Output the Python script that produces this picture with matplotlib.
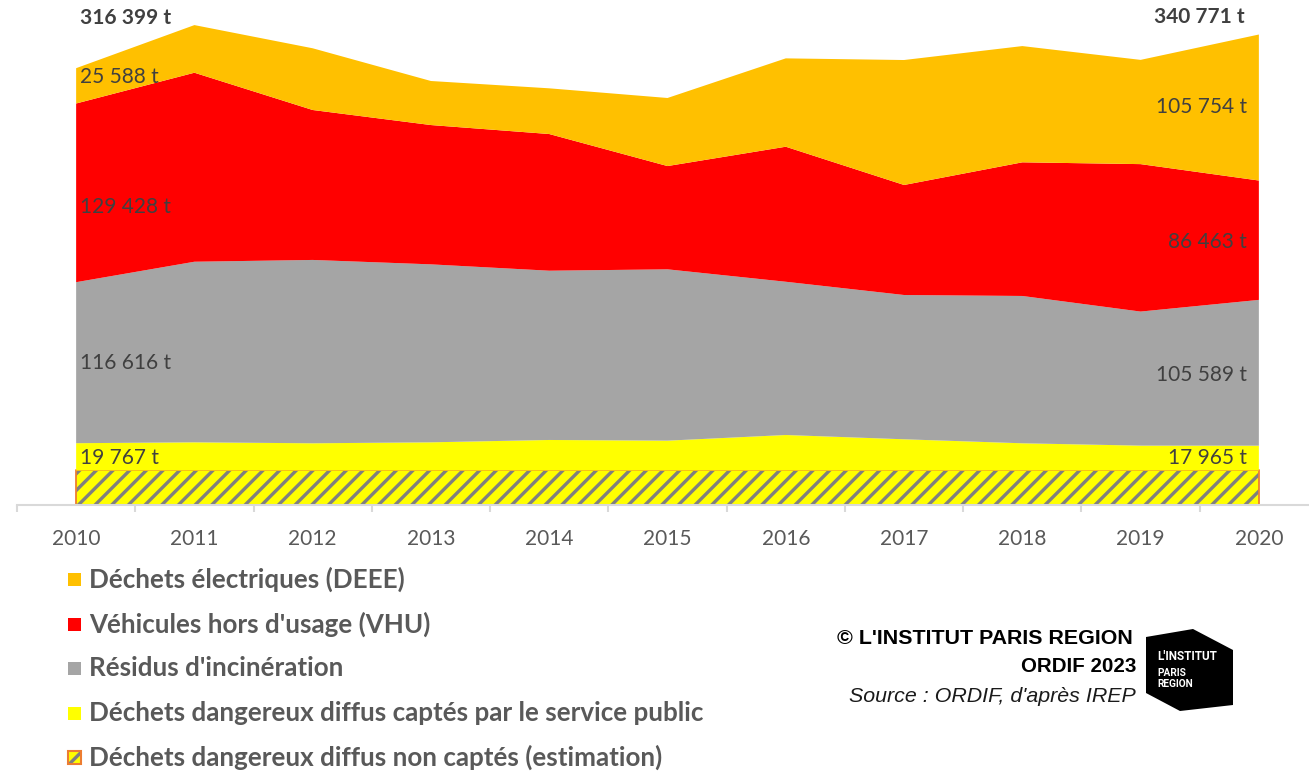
import matplotlib
matplotlib.use("Agg")
import matplotlib.pyplot as plt
import numpy as np
from matplotlib.patches import Rectangle, Polygon

# values in tonnes
years = [2010, 2011, 2012, 2013, 2014, 2015, 2016, 2017, 2018, 2019, 2020]
non_captes = [25000, 25000, 25000, 25000, 25000, 25000, 25000, 25000, 25000, 25000, 25000]
captes = [19767, 20400, 19700, 20400, 22100, 21600, 25700, 22600, 19700, 18000, 17965]
residus = [116616, 130800, 132800, 128900, 122600, 124100, 111000, 104500, 106700, 97100, 105589]
vhu = [129428, 136900, 108600, 100900, 99000, 74800, 97800, 79700, 96800, 106800, 86463]
deee = [25588, 34500, 44700, 31900, 33100, 49300, 64000, 90500, 84200, 75500, 105754]

labels = [
    "Déchets électriques (DEEE)",
    "Véhicules hors d'usage (VHU)",
    "Résidus d'incinération",
    "Déchets dangereux diffus captés par le service public",
    "Déchets dangereux diffus non captés (estimation)",
]
colors = ["#FFC000", "#FF0000", "#A5A5A5", "#FFFF00", "#FFFF00"]
hatch_grey = "#7F7F7F"
border_orange = "#ED7D31"
txt_grey = "#595959"
lbl_grey = "#404040"


def fmt_t(v):
    return f"{v:,}".replace(",", " ") + " t"


plt.rcParams["font.family"] = ["Lato", "DejaVu Sans"]
plt.rcParams["hatch.linewidth"] = 2.4
plt.rcParams["hatch.color"] = hatch_grey

W, H = 1309, 771
fig = plt.figure(figsize=(W / 100, H / 100), dpi=100)
# axis runs a bit past the right edge, as in the source
ax = fig.add_axes([17 / W, (H - 505) / H, 1301 / W, 505 / H])

x = np.array(years)
stack = np.vstack([non_captes, captes, residus, vhu, deee]).astype(float)
cum = np.cumsum(stack, axis=0)
base = np.zeros(len(x))

# bottom hatched layer
ax.fill_between(x, base, cum[0], facecolor=colors[4], edgecolor=hatch_grey, hatch="//", linewidth=0)
ax.fill_between(x, base, cum[0], facecolor="none", edgecolor=border_orange, linewidth=1.3)
ax.fill_between(x, cum[0], cum[1], facecolor=colors[3], linewidth=0)
ax.fill_between(x, cum[1], cum[2], facecolor=colors[2], linewidth=0)
ax.fill_between(x, cum[2], cum[3], facecolor=colors[1], linewidth=0)
ax.fill_between(x, cum[3], cum[4], facecolor=colors[0], linewidth=0)

ax.set_xlim(2009.5, 2020.5)
ax.set_ylim(0, 505 * 724.3)
for s in ["top", "left", "right"]:
    ax.spines[s].set_visible(False)
ax.spines["bottom"].set_color("#D9D9D9")
ax.spines["bottom"].set_linewidth(1.5)
ax.set_yticks([])
ax.set_xticks(x)
ax.set_xticks(np.arange(2009.5, 2021, 1.0), minor=True)
ax.tick_params(axis="x", which="major", length=0, pad=17, labelsize=15, labelcolor=txt_grey)
ax.tick_params(axis="x", which="minor", length=5, width=1.5, color="#D9D9D9")

# data labels, first and last year
lbl_size = 15
first, last = 0, -1
ax.text(2010.03, cum[4][first] + 36000, fmt_t(int(cum[4][first])), fontsize=lbl_size,
        fontweight="bold", color=lbl_grey, ha="left", va="center")
ax.text(2019.88, cum[4][last] + 13000, fmt_t(int(cum[4][last])), fontsize=lbl_size,
        fontweight="bold", color=lbl_grey, ha="right", va="center")

left_pos = [310000, 215800, 102850, 34100]
right_pos = [288300, 190500, 94200, 34100]
series_desc = [deee, vhu, residus, captes]
for s, yl, yr in zip(series_desc, left_pos, right_pos):
    ax.text(2010.03, yl, fmt_t(s[first]), fontsize=lbl_size, color=lbl_grey, ha="left", va="center")
    ax.text(2019.9, yr, fmt_t(s[last]), fontsize=lbl_size, color=lbl_grey, ha="right", va="center")

# legend, drawn by hand to keep the loose spacing
row_y = [579, 624, 668, 713, 757]
sq = 13
for i, (lab, c) in enumerate(zip(labels, colors)):
    yc = row_y[i]
    box = ((68) / W, (H - yc - sq / 2) / H)
    if i == 4:
        fig.add_artist(Rectangle(box, sq / W, sq / H, transform=fig.transFigure,
                                 facecolor=c, edgecolor=hatch_grey, hatch="/", linewidth=0))
        fig.add_artist(Rectangle(box, sq / W, sq / H, transform=fig.transFigure,
                                 facecolor="none", edgecolor=border_orange, linewidth=1.5))
    else:
        fig.add_artist(Rectangle(box, sq / W, sq / H, transform=fig.transFigure,
                                 facecolor=c, linewidth=0))
    fig.text(89 / W, (H - yc) / H, lab, fontsize=18.7, fontweight="bold", color=txt_grey,
             ha="left", va="center")

# credits
cred_font = ["Liberation Sans", "DejaVu Sans"]
fig.text(1133 / W, (H - 638) / H, "© L'INSTITUT PARIS REGION", fontsize=15.4, fontweight="bold",
         family=cred_font, color="black", ha="right", va="center")
fig.text(1136 / W, (H - 667) / H, "ORDIF 2023", fontsize=14.8, fontweight="bold",
         family=cred_font, color="black", ha="right", va="center")
fig.text(1136 / W, (H - 697) / H, "Source : ORDIF, d'après IREP", fontsize=15.4, style="italic",
         family=cred_font, color="#1a1a1a", ha="right", va="center")

# logo
logo_px = [(1146, 637), (1193, 629), (1233, 650), (1233, 705), (1180, 711), (1146, 693)]
logo = Polygon([(px / W, (H - py) / H) for px, py in logo_px], closed=True,
               transform=fig.transFigure, facecolor="black", edgecolor="none")
fig.add_artist(logo)
logo_font = ["Roboto", "DejaVu Sans"]
fig.text(1157 / W, (H - 657) / H, "L'INSTITUT", fontsize=8.5, fontweight="bold", family=logo_font,
         color="white", ha="left", va="center")
fig.text(1157 / W, (H - 673) / H, "PARIS", fontsize=7.3, fontweight="bold", family=logo_font,
         color="white", ha="left", va="center")
fig.text(1157 / W, (H - 684) / H, "REGION", fontsize=7.3, fontweight="bold", family=logo_font,
         color="white", ha="left", va="center")

fig.savefig("out.png", dpi=100)
